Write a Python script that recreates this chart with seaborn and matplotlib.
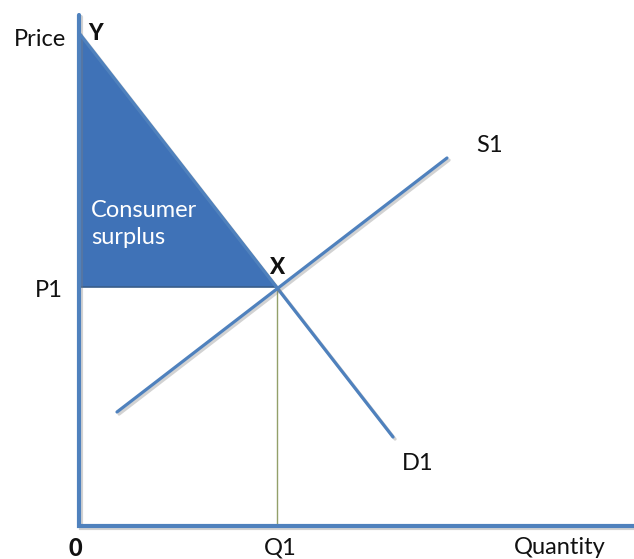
import matplotlib
matplotlib.use('Agg')
import matplotlib.pyplot as plt
import matplotlib.patheffects as pe
import seaborn as sns

# demand and supply curves (quantity, price)
demand_q = [0.0, 31.4]
demand_p = [49.3, 8.9]
supply_q = [3.8, 36.8]
supply_p = [11.4, 36.8]
eq_q = 19.8
eq_p = 23.9
axis_top = 51.1
axis_right = 55.5

sns.set_theme(style='white')
plt.rcParams['font.family'] = ['Lato', 'DejaVu Sans']

fig = plt.figure(figsize=(6.34, 5.59), dpi=100)
ax = fig.add_axes([0, 0, 1, 1])
ax.set_xlim(-7.9, 55.5)
ax.set_ylim(-3.3, 52.6)
ax.axis('off')

line_blue = '#4f81bd'
shadow = [pe.SimpleLineShadow(offset=(1.5, -1.5), shadow_color='gray', alpha=0.35), pe.Normal()]

# consumer surplus triangle
ax.fill([0, 0, eq_q], [demand_p[0], eq_p, eq_p], color='#3f72b7', edgecolor='#385d8a', lw=1.2, zorder=2)

# axes
ax.plot([0, 0, axis_right], [axis_top, 0, 0], color=line_blue, lw=3, solid_joinstyle='miter',
        path_effects=shadow, zorder=3)

# Q1 guide
ax.plot([eq_q, eq_q], [0, eq_p], color='#93a06a', lw=1, zorder=2)

sns.lineplot(x=demand_q, y=demand_p, ax=ax, color=line_blue, lw=2.3, zorder=4,
             path_effects=shadow)
sns.lineplot(x=supply_q, y=supply_p, ax=ax, color=line_blue, lw=2.3, zorder=4,
             path_effects=shadow)

fs = 17
ink = '#111111'
ax.text(-1.3, 48.6, 'Price', ha='right', va='center', fontsize=fs, color=ink)
ax.text(0.9, 49.3, 'Y', ha='left', va='center', fontsize=fs - 1, fontweight='black', color=ink)
ax.text(1.2, 30.2, 'Consumer\nsurplus', ha='left', va='center', fontsize=fs, color='white',
        linespacing=1.3)
ax.text(eq_q, eq_p + 2.0, 'X', ha='center', va='center', fontsize=fs - 1, fontweight='black', color=ink)
ax.text(-1.6, eq_p - 0.3, 'P1', ha='right', va='center', fontsize=fs, color=ink)
ax.text(39.7, 38.0, 'S1', ha='left', va='center', fontsize=fs, color=ink)
ax.text(32.3, 6.3, 'D1', ha='left', va='center', fontsize=fs, color=ink)
ax.text(-0.4, -2.2, '0', ha='center', va='center', fontsize=fs, fontweight='black', color=ink)
ax.text(eq_q + 0.3, -2.2, 'Q1', ha='center', va='center', fontsize=fs, color=ink)
ax.text(48.1, -2.2, 'Quantity', ha='center', va='center', fontsize=fs, color=ink)

fig.savefig('out.png', dpi=100)
